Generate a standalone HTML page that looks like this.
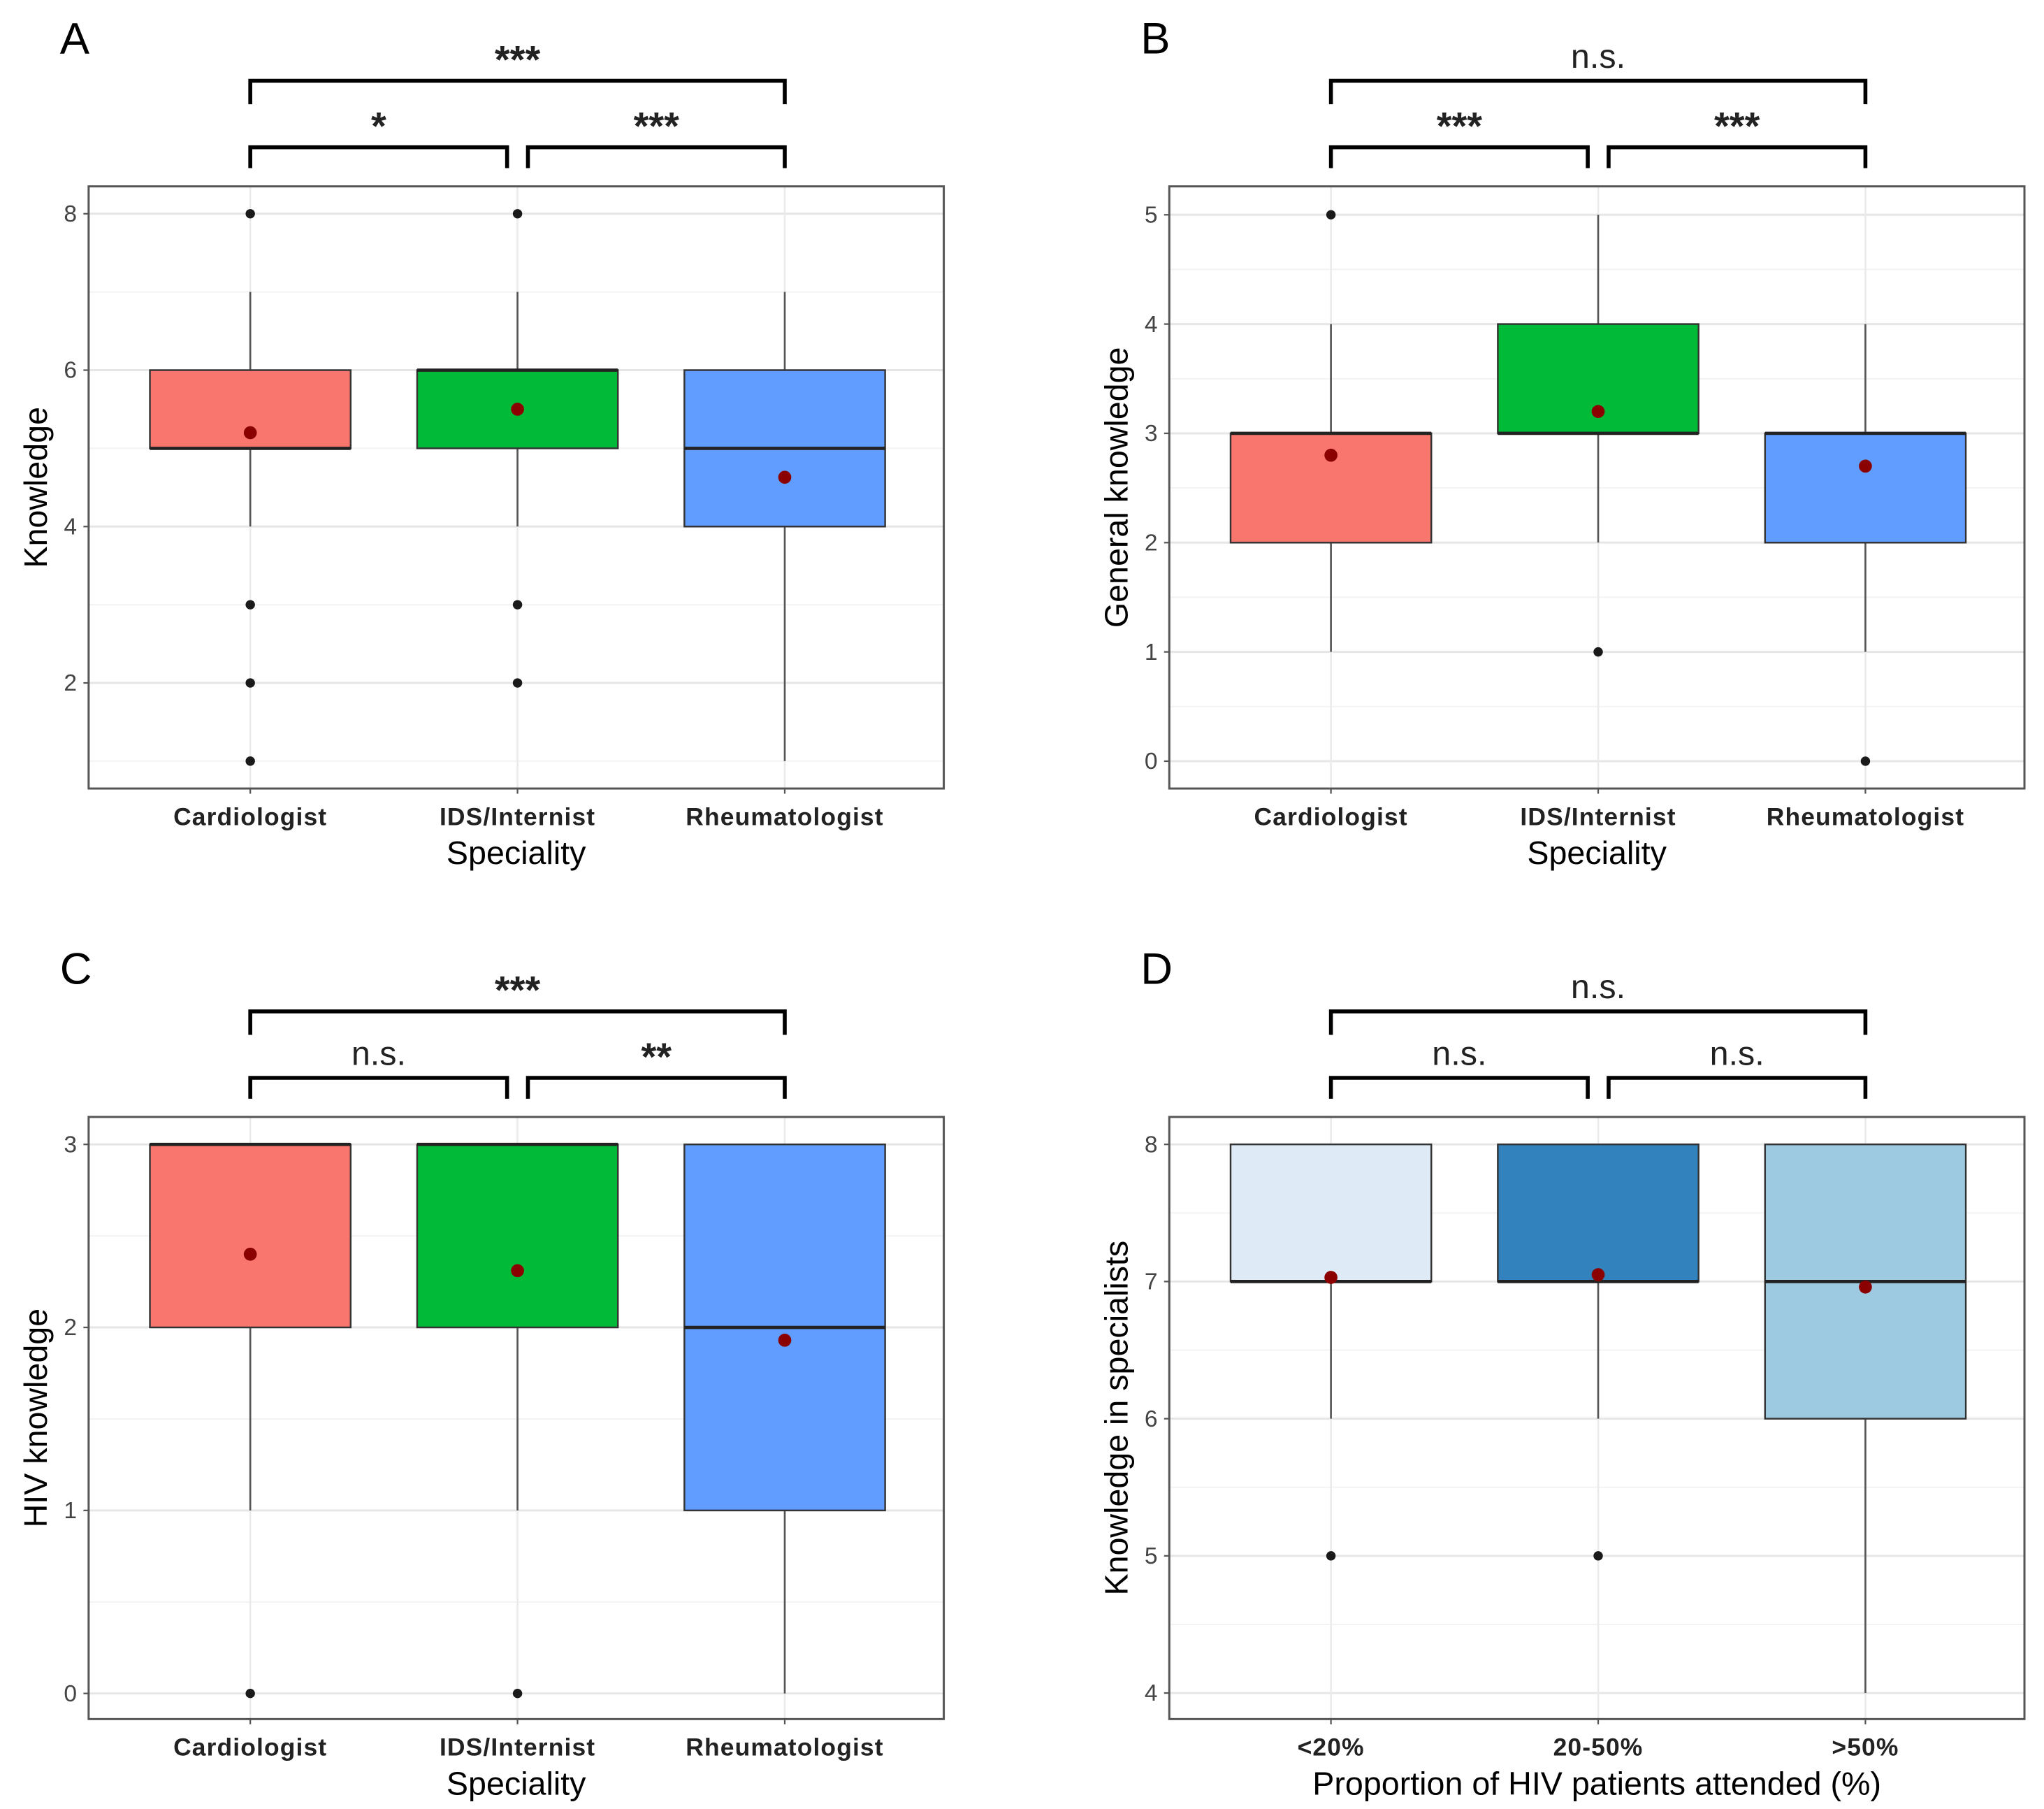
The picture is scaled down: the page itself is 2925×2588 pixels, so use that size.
<!DOCTYPE html>
<html><head><meta charset="utf-8"><style>
html,body{margin:0;padding:0;background:#fff;}
svg{display:block;}
text{font-family:"Liberation Sans",Arial,sans-serif;}
</style></head><body>
<svg id="fig" width="2925" height="2588" viewBox="0 0 1568 1388" preserveAspectRatio="none" xmlns="http://www.w3.org/2000/svg"></svg>
<script>
// ---- Data ----
const categoriesSpec = ["Cardiologist","IDS/Internist","Rheumatologist"];
const categoriesProp = ["<20%","20-50%",">50%"];
const colorsSpec = ["#F8766D","#00BA38","#619CFF"];
const colorsProp = ["#deebf7","#3182bd","#9ecae1"];

// Panel A
const aQ1 = [5,5,4], aMed = [5,6,5], aQ3 = [6,6,6], aLo = [4,4,1], aHi = [7,7,7];
const aMean = [5.2,5.5,4.63];
const aOut = [[8,3,2,1],[8,3,2],[]];
const aTicks = [2,4,6,8];
// Panel B
const bQ1 = [2,3,2], bMed = [3,3,3], bQ3 = [3,4,3], bLo = [1,2,1], bHi = [4,5,4];
const bMean = [2.8,3.2,2.7];
const bOut = [[5],[1],[0]];
const bTicks = [0,1,2,3,4,5];
// Panel C
const cQ1 = [2,2,1], cMed = [3,3,2], cQ3 = [3,3,3], cLo = [1,1,0], cHi = [3,3,3];
const cMean = [2.4,2.31,1.93];
const cOut = [[0],[0],[]];
const cTicks = [0,1,2,3];
// Panel D
const dQ1 = [7,7,6], dMed = [7,7,7], dQ3 = [8,8,8], dLo = [6,6,4], dHi = [8,8,8];
const dMean = [7.03,7.05,6.96];
const dOut = [[5],[5],[]];
const dTicks = [4,5,6,7,8];

const sigA = ["*","***","***"], sigB = ["***","***","n.s."], sigC = ["n.s.","**","***"], sigD = ["n.s.","n.s.","n.s."];

const NS = "http://www.w3.org/2000/svg";
const svg = document.getElementById('fig');
function mk(tag, attrs, parent){
  const e = document.createElementNS(NS, tag);
  for (const k in attrs) e.setAttribute(k, attrs[k]);
  (parent||svg).appendChild(e);
  return e;
}

function panel(cfg){
  const g = mk('g', {});
  
  
  const L = cfg.x0, R = cfg.x0 + 656, T = cfg.y0, B = cfg.y0 + 462;
  const yMin = cfg.ymin, yMax = cfg.ymax;
  const y = v => B - (v - yMin) / (yMax - yMin) * (B - T);
  const xs = [L + 124, L + 329, L + 534];
  const hw = 77;
  const step = cfg.ticks[1] - cfg.ticks[0];
  for (let v = cfg.ticks[0] - step/2; v <= yMax; v += step/2) {
    if (v < yMin) continue;
    const major = Math.abs((v - cfg.ticks[0]) / step - Math.round((v - cfg.ticks[0]) / step)) < 1e-6;
    const gl = mk('line', {x1:L, x2:R, y1:y(v), y2:y(v), stroke: major ? '#e6e6e6' : '#f2f2f2', 'stroke-width': major ? 1.6 : 1}, g);
    
    
  }
  xs.forEach(x => {
    const gl = mk('line', {x1:x, x2:x, y1:T, y2:B, stroke:'#ebebeb', 'stroke-width':1.4}, g);
    
    
  });
  for (let i = 0; i < 3; i++) {
    const bg = mk('g', {}, g);
    
    
    mk('line', {x1:xs[i], x2:xs[i], y1:y(cfg.hi[i]), y2:y(cfg.q3[i]), stroke:'#555', 'stroke-width':1.4}, bg);
    mk('line', {x1:xs[i], x2:xs[i], y1:y(cfg.q1[i]), y2:y(cfg.lo[i]), stroke:'#555', 'stroke-width':1.4}, bg);
    mk('rect', {x:xs[i]-hw, y:y(cfg.q3[i]), width:2*hw, height:y(cfg.q1[i])-y(cfg.q3[i]), fill:cfg.colors[i], stroke:'#333', 'stroke-width':1.3}, bg);
    mk('line', {x1:xs[i]-hw, x2:xs[i]+hw, y1:y(cfg.med[i]), y2:y(cfg.med[i]), stroke:'#222', 'stroke-width':2.5}, bg);
    cfg.out[i].forEach(v => {
      const c = mk('circle', {cx:xs[i], cy:y(v), r:3.6, fill:'#1a1a1a'}, bg);
      
      
    });
    const m = mk('circle', {cx:xs[i], cy:y(cfg.mean[i]), r:5, fill:'#8B0000'}, bg);
    
    
  }
  const br = mk('rect', {x:L, y:T, width:R-L, height:B-T, fill:'none', stroke:'#555', 'stroke-width':1.6}, g);
  
  
  cfg.ticks.forEach(v => {
    mk('line', {x1:L-4, x2:L, y1:y(v), y2:y(v), stroke:'#555', 'stroke-width':1.2}, g);
    const t = mk('text', {x:L-9, y:y(v)+6, 'text-anchor':'end', 'font-size':18, fill:'#444'}, g);
    t.textContent = v;
    
    
  });
  xs.forEach((x, i) => {
    mk('line', {x1:x, x2:x, y1:B, y2:B+4, stroke:'#555', 'stroke-width':1.2}, g);
    const t = mk('text', {x:x, y:B+28, 'text-anchor':'middle', 'font-size':19, 'font-weight':'bold', 'letter-spacing':'0.6', fill:'#222'}, g);
    t.textContent = cfg.cats[i];
    
    
  });
  const xt = mk('text', {x:(L+R)/2, y:B+58, 'text-anchor':'middle', 'font-size':25, fill:'#000'}, g);
  xt.textContent = cfg.xtitle;
  
  
  const yc = (T+B)/2;
  const yt = mk('text', {x:L-32, y:yc, 'text-anchor':'middle', 'font-size':25, fill:'#000', transform:'rotate(-90 '+(L-32)+' '+yc+')'}, g);
  yt.textContent = cfg.ytitle;
  
  
  const lt = mk('text', {x:cfg.x0-22, y:T-102, 'font-size':34, fill:'#000'}, g);
  lt.textContent = cfg.letter;
  
  
  const topY = T - 81, lowY = T - 30;
  function bracket(x1, x2, yy, drop, label){
    const bk = mk('g', {}, g);
    
    
    mk('path', {d:'M'+x1+' '+(yy+drop)+' V'+yy+' H'+x2+' V'+(yy+drop), fill:'none', stroke:'#000', 'stroke-width':3}, bk);
    const isStar = label.indexOf('*') >= 0;
    const tx = mk('text', {x:(x1+x2)/2, y: isStar ? yy-6 : yy-10, 'text-anchor':'middle', 'font-size': isStar ? 30 : 26, 'font-weight': isStar ? 'bold' : 'normal', fill:'#222'}, bk);
    tx.textContent = label;
  }
  bracket(xs[0], xs[1]-8, lowY, 16, cfg.sig[0]);
  bracket(xs[1]+8, xs[2], lowY, 16, cfg.sig[1]);
  bracket(xs[0], xs[2], topY, 18, cfg.sig[2]);
}

panel({letter:'A', x0:68, y0:143, ymin:0.65, ymax:8.35, ticks:aTicks, cats:categoriesSpec, colors:colorsSpec,
  q1:aQ1, med:aMed, q3:aQ3, lo:aLo, hi:aHi, mean:aMean, out:aOut, sig:sigA, xtitle:'Speciality', ytitle:'Knowledge'});
panel({letter:'B', x0:897, y0:143, ymin:-0.25, ymax:5.26, ticks:bTicks, cats:categoriesSpec, colors:colorsSpec,
  q1:bQ1, med:bMed, q3:bQ3, lo:bLo, hi:bHi, mean:bMean, out:bOut, sig:sigB, xtitle:'Speciality', ytitle:'General knowledge'});
panel({letter:'C', x0:68, y0:857, ymin:-0.14, ymax:3.15, ticks:cTicks, cats:categoriesSpec, colors:colorsSpec,
  q1:cQ1, med:cMed, q3:cQ3, lo:cLo, hi:cHi, mean:cMean, out:cOut, sig:sigC, xtitle:'Speciality', ytitle:'HIV knowledge'});
panel({letter:'D', x0:897, y0:857, ymin:3.81, ymax:8.2, ticks:dTicks, cats:categoriesProp, colors:colorsProp,
  q1:dQ1, med:dMed, q3:dQ3, lo:dLo, hi:dHi, mean:dMean, out:dOut, sig:sigD, xtitle:'Proportion of HIV patients attended (%)', ytitle:'Knowledge in specialists'});
</script>
</body></html>
